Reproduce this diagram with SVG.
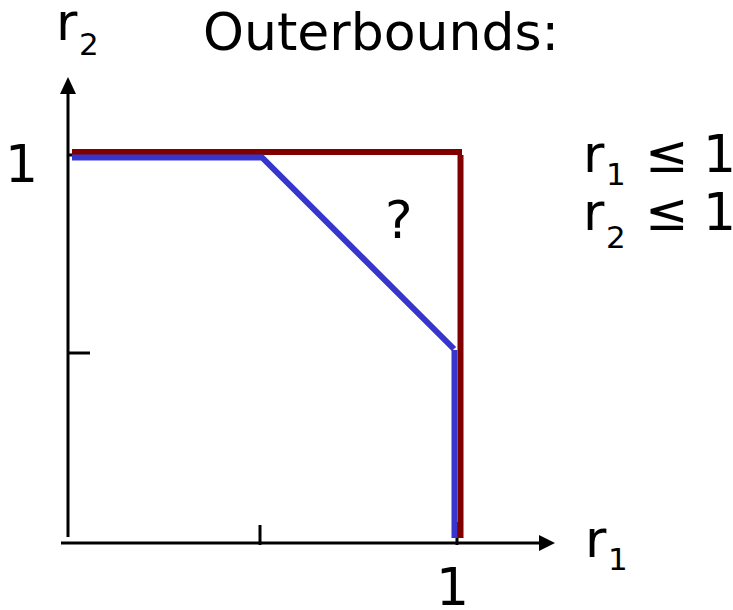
<svg xmlns="http://www.w3.org/2000/svg" width="733" height="610" viewBox="0 0 733 610">
<style>
text{font-family:"DejaVu Sans","Liberation Sans",sans-serif;fill:#000}
.big{font-size:52px}
.sub{font-size:31px}
.ax{stroke:#000;stroke-width:3;fill:none}
.red{stroke:#800000;stroke-width:6;fill:none}
.blue{stroke:#3636cc;stroke-width:6;fill:none}
</style>
<rect width="733" height="610" fill="#fff"/>
<g id="axes">
<line class="ax" x1="68" y1="90" x2="68" y2="537"/>
<polygon points="68,77 60,94 76,94" fill="#000"/>
<line class="ax" x1="61" y1="543" x2="541" y2="543"/>
<polygon points="555,543 539,535 539,551" fill="#000"/>
<line class="ax" x1="68" y1="155" x2="73" y2="155"/>
<line class="ax" x1="68" y1="353" x2="90" y2="353"/>
<line class="ax" x1="260" y1="525" x2="260" y2="545"/>
<line class="ax" x1="457" y1="522" x2="457" y2="545"/>
</g>
<g id="outer-bound">
<polyline class="red" points="72,152 462,152"/>
<line class="red" x1="460.5" y1="155" x2="460.5" y2="538"/>
</g>
<g id="inner-bound">
<polyline class="blue" points="72,157.5 262,157.5 454,349"/>
<line class="blue" x1="454.5" y1="350" x2="454.5" y2="538"/>
</g>
<g id="labels">
<text class="big" x="56" y="40">r<tspan class="sub" x="79" y="55">2</tspan></text>
<text class="big" x="203" y="50">Outerbounds:</text>
<text class="big" x="5" y="182">1</text>
<text class="big" x="436" y="605">1</text>
<text class="big" x="385" y="238">?</text>
<text class="big" x="585" y="557">r<tspan class="sub" x="608" y="570">1</tspan></text>
<text class="big" x="583" y="172">r<tspan class="sub" x="606" y="185">1</tspan><tspan x="645" y="172">≤</tspan><tspan x="703" y="172">1</tspan></text>
<text class="big" x="583" y="230">r<tspan class="sub" x="606" y="248">2</tspan><tspan x="645" y="230">≤</tspan><tspan x="703" y="230">1</tspan></text>
</g>
</svg>
